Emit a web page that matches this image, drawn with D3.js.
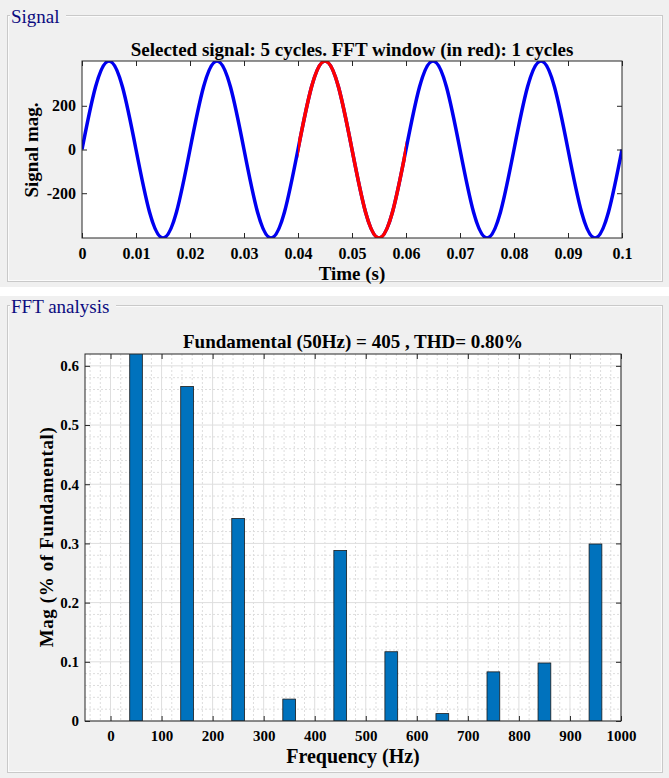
<!DOCTYPE html>
<html lang="en">
<head>
<meta charset="UTF-8">
<title>Signal / FFT analysis</title>
<script src="https://cdn.jsdelivr.net/npm/d3@7"></script>
<style>
    body { margin: 0; background: #fff; }
    svg { display: block; font-family: "Liberation Serif", "Times New Roman", serif; }
    .tick text { font-weight: bold; fill: #000; }
</style>
</head>
<body>
<div id="chart"></div>
<script>
// signal samples, one every 2.5 ms
var sampleStep = 0.0025;
var signalMag = [
    0, 286, 405, 286, 0, -286, -405, -286,
    0, 286, 405, 286, 0, -286, -405, -286,
    0, 286, 405, 286, 0, -286, -405, -286,
    0, 286, 405, 286, 0, -286, -405, -286,
    0, 286, 405, 286, 0, -286, -405, -286,
    0
];
var fftWindow = [0.04, 0.06];   // red part
var timeTicks = [0, 0.01, 0.02, 0.03, 0.04, 0.05, 0.06, 0.07, 0.08, 0.09, 0.1];
var magTicks = [-200, 0, 200];

// harmonics, % of fundamental (fundamental = 100, clipped)
var harmFreq = [50, 150, 250, 350, 450, 550, 650, 750, 850, 950];
var harmMag  = [100, 0.565, 0.342, 0.037, 0.288, 0.117, 0.0125, 0.083, 0.098, 0.299];
var freqTicks = [0, 100, 200, 300, 400, 500, 600, 700, 800, 900, 1000];
var pctTicks = [0, 0.1, 0.2, 0.3, 0.4, 0.5, 0.6];

var W = 669, H = 778;
var svg = d3.select("#chart").append("svg").attr("width", W).attr("height", H);

// ---- panels ----
function panel(y0, y1, lineY, title, titleW) {
    svg.append("rect").attr("x", 0).attr("y", y0).attr("width", W).attr("height", y1 - y0).attr("fill", "#f0f0f0");
    svg.append("rect").attr("x", 7.5).attr("y", lineY + 0.5).attr("width", 655).attr("height", y1 - lineY - 6)
        .attr("fill", "none").attr("stroke", "#c9c9c9");
    svg.append("rect").attr("x", 8.5).attr("y", lineY + 1.5).attr("width", 653).attr("height", y1 - lineY - 8)
        .attr("fill", "none").attr("stroke", "#fbfbfb");
    svg.append("rect").attr("x", 10).attr("y", lineY - 8).attr("width", titleW).attr("height", 16).attr("fill", "#f0f0f0");
    svg.append("text").attr("x", 11).attr("y", lineY + 8).attr("font-size", 19).attr("fill", "#0c0c80").text(title);
}
panel(0, 287, 15, "Signal", 56);
panel(296, H, 305, "FFT analysis", 106);

function boxAxes(g, x, y, xt, yt, xfmt, yfmt, fs, padX, padY) {
    var r = x.range(), b = y.range();
    g.append("g").attr("transform", `translate(0,${b[0]})`)
        .call(d3.axisBottom(x).tickValues(xt).tickFormat(xfmt).tickSizeInner(-5).tickSizeOuter(0).tickPadding(padX))
        .call(a => a.select(".domain").remove())
        .call(a => a.selectAll("text").attr("font-size", fs).attr("font-family", "Liberation Serif"));
    g.append("g").attr("transform", `translate(0,${b[1]})`)
        .call(d3.axisTop(x).tickValues(xt).tickFormat("").tickSizeInner(-5).tickSizeOuter(0))
        .call(a => a.select(".domain").remove());
    g.append("g").attr("transform", `translate(${r[0]},0)`)
        .call(d3.axisLeft(y).tickValues(yt).tickFormat(yfmt).tickSizeInner(-5).tickSizeOuter(0).tickPadding(padY))
        .call(a => a.select(".domain").remove())
        .call(a => a.selectAll("text").attr("font-size", fs).attr("font-family", "Liberation Serif"));
    g.append("g").attr("transform", `translate(${r[1]},0)`)
        .call(d3.axisRight(y).tickValues(yt).tickFormat("").tickSizeInner(-5).tickSizeOuter(0))
        .call(a => a.select(".domain").remove());
    g.selectAll(".tick line").attr("stroke", "#262626");
    g.append("rect").attr("x", r[0]).attr("y", b[1]).attr("width", r[1] - r[0]).attr("height", b[0] - b[1])
        .attr("fill", "none").attr("stroke", "#262626").attr("stroke-width", 1);
}

// ---- signal plot ----
var x1 = d3.scaleLinear().domain([0, 0.1]).range([82, 622]);
var y1 = d3.scaleLinear().domain([-405, 405]).range([238, 61]);

svg.append("clipPath").attr("id", "clipSig").append("rect")
    .attr("x", 82).attr("y", 61).attr("width", 540).attr("height", 177);
svg.append("rect").attr("x", 82).attr("y", 61).attr("width", 540).attr("height", 177).attr("fill", "#fff");

var pts = signalMag.map((v, i) => ({t: i * sampleStep, v: v}));
var line = d3.line().x(d => x1(d.t)).y(d => y1(d.v)).curve(d3.curveNatural);
var gSig = svg.append("g").attr("clip-path", "url(#clipSig)");
gSig.append("path").datum(pts).attr("d", line)
    .attr("fill", "none").attr("stroke", "#0000f0").attr("stroke-width", 3.5);
// red window: redraw the same curve and clip it to the window
svg.append("clipPath").attr("id", "clipWin").append("rect")
    .attr("x", x1(fftWindow[0])).attr("y", 61).attr("width", x1(fftWindow[1]) - x1(fftWindow[0])).attr("height", 177);
gSig.append("g").attr("clip-path", "url(#clipWin)")
    .append("path").datum(pts).attr("d", line)
    .attr("fill", "none").attr("stroke", "#ff0000").attr("stroke-width", 3.5);

boxAxes(svg.append("g"), x1, y1, timeTicks, magTicks, d => String(+d.toFixed(2)), d => String(d), 16, 10, 6);

svg.append("text").attr("x", 352).attr("y", 56).attr("text-anchor", "middle")
    .attr("font-size", 19).attr("font-weight", "bold").text("Selected signal: 5 cycles. FFT window (in red): 1 cycles");
svg.append("text").attr("x", 352).attr("y", 280).attr("text-anchor", "middle")
    .attr("font-size", 19).attr("font-weight", "bold").text("Time (s)");
svg.append("text").attr("transform", "translate(38,150) rotate(-90)").attr("text-anchor", "middle")
    .attr("font-size", 19).attr("font-weight", "bold").text("Signal mag.");

// ---- FFT plot ----
var x2 = d3.scaleLinear().domain([-50, 1000]).range([85, 621]);
var y2 = d3.scaleLinear().domain([0, 0.62]).range([721, 354]);

svg.append("rect").attr("x", 85).attr("y", 354).attr("width", 536).attr("height", 367).attr("fill", "#fff");
var grid = svg.append("g");
grid.selectAll(".mx").data(d3.range(-40, 1000, 20).filter(v => v % 100 !== 0)).join("line")
    .attr("x1", d => x2(d)).attr("x2", d => x2(d)).attr("y1", 354).attr("y2", 721)
    .attr("stroke", "#dddddd").attr("stroke-dasharray", "2,2");
grid.selectAll(".my").data(d3.range(1, 31).filter(v => v % 5 !== 0).map(v => v * 0.02)).join("line")
    .attr("x1", 85).attr("x2", 621).attr("y1", d => y2(d)).attr("y2", d => y2(d))
    .attr("stroke", "#dddddd").attr("stroke-dasharray", "2,2");
grid.selectAll(".gx").data(freqTicks).join("line")
    .attr("x1", d => x2(d)).attr("x2", d => x2(d)).attr("y1", 354).attr("y2", 721).attr("stroke", "#dedede");
grid.selectAll(".gy").data(pctTicks).join("line")
    .attr("x1", 85).attr("x2", 621).attr("y1", d => y2(d)).attr("y2", d => y2(d)).attr("stroke", "#dedede");

svg.append("clipPath").attr("id", "clipFft").append("rect")
    .attr("x", 85).attr("y", 354).attr("width", 536).attr("height", 367);
svg.append("g").attr("clip-path", "url(#clipFft)")
    .selectAll("rect").data(harmFreq).join("rect")
    .attr("x", d => x2(d - 12.5))
    .attr("width", x2(25) - x2(0))
    .attr("y", (d, i) => y2(harmMag[i]))
    .attr("height", (d, i) => y2(0) - y2(harmMag[i]))
    .attr("fill", "#0072bd").attr("stroke", "#1a1a1a").attr("stroke-width", 0.8);

boxAxes(svg.append("g"), x2, y2, freqTicks, pctTicks, d => String(d), d => String(+d.toFixed(1)), 15, 9, 6);

svg.append("text").attr("x", 353).attr("y", 348).attr("text-anchor", "middle")
    .attr("font-size", 19).attr("font-weight", "bold").text("Fundamental (50Hz) = 405 , THD= 0.80%");
svg.append("text").attr("x", 353).attr("y", 763).attr("text-anchor", "middle")
    .attr("font-size", 20).attr("font-weight", "bold").text("Frequency (Hz)");
svg.append("text").attr("transform", "translate(53,537) rotate(-90)").attr("text-anchor", "middle")
    .attr("font-size", 19).attr("font-weight", "bold").attr("letter-spacing", 0.6).text("Mag (% of Fundamental)");
</script>
</body>
</html>
